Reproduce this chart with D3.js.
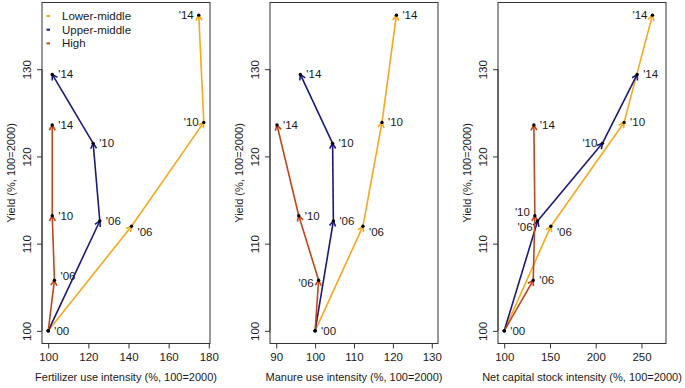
<!DOCTYPE html>
<html><head><meta charset="utf-8">
<script src="https://cdn.jsdelivr.net/npm/d3@7"></script>
<style>
body{margin:0;background:#fff;}
svg{display:block;font-family:"Liberation Sans",Arial,sans-serif;}
</style></head>
<body><svg id="c" width="685" height="388"></svg>
<script>
// ---- data ----
const groups = ["Lower-middle", "Upper-middle", "High"];
const years = ["'00", "'06", "'10", "'14"];
const yieldLM   = [100, 112.0, 123.9, 136.2];
const yieldUM   = [100, 112.6, 121.5, 129.4];
const yieldHigh = [100, 105.8, 113.2, 123.6];
const fertLM   = [100, 141.5, 177.5, 175.0];
const fertUM   = [100, 125.7, 122.4, 102.0];
const fertHigh = [100, 103.1, 102.0, 102.0];
const manureLM   = [100, 112.3, 117.2, 120.9];
const manureUM   = [100, 104.7, 104.5, 96.2];
const manureHigh = [100, 100.9, 95.8, 90.2];
const capitalLM   = [100, 151.0, 231.0, 262.0];
const capitalUM   = [100, 136.5, 207.3, 245.3];
const capitalHigh = [100, 131.7, 133.5, 132.4];
const xTitles = ["Fertilizer use intensity (%, 100=2000)", "Manure use intensity (%, 100=2000)", "Net capital stock intensity (%, 100=2000)"];
const xTicks = [[100,120,140,160,180],[90,100,110,120,130],[100,150,200,250]];
const yTicks = [100,110,120,130];
const yTitle = "Yield (%, 100=2000)";

// ---- layout / style ----
const colors = ["#F7A81B", "#1B1A78", "#C2461B"];
const xDomains = [[96.9,180.6],[88.4,131.6],[93.2,276.8]];
const yDomain = [98.55,137.65];
const fs = 11;
// label placement codes per panel, per group, per year index (1..3)
const labelPlace = [
  [["rb","l","l"],["r","r","r"],["ra","r","r"]],
  [["rb","r","r"],["r","r","r"],["l","r","r"]],
  [["rb","r","l"],["lb","l","r"],["r","la","r"]]
];
const panelLeft = [42, 270, 498], panelW = 168, plotTop = 2.5, plotBottom = 343.5;

const xSeries = [[fertLM,fertUM,fertHigh],[manureLM,manureUM,manureHigh],[capitalLM,capitalUM,capitalHigh]];
const ySeries = [yieldLM, yieldUM, yieldHigh];

const svg = d3.select("#c");
const txt = "#1a1a1a";
const y = d3.scaleLinear().domain(yDomain).range([plotBottom, plotTop]);

function arrow(g, x0, y0, x1, y1, col){
  const ang = Math.atan2(y1-y0, x1-x0), L = 6, a = Math.PI/6;
  g.append("line").attr("x1",x0).attr("y1",y0).attr("x2",x1).attr("y2",y1)
    .attr("stroke",col).attr("stroke-width",1.6);
  const p = [[x1 - L*Math.cos(ang-a), y1 - L*Math.sin(ang-a)],[x1,y1],[x1 - L*Math.cos(ang+a), y1 - L*Math.sin(ang+a)]];
  g.append("path").attr("d", d3.line()(p)).attr("fill","none").attr("stroke",col).attr("stroke-width",1.6);
}

xSeries.forEach((xs, pi) => {
  const L = panelLeft[pi], R = L + panelW;
  const x = d3.scaleLinear().domain(xDomains[pi]).range([L, R]);
  const g = svg.append("g");
  // box
  g.append("rect").attr("x",L).attr("y",plotTop).attr("width",panelW).attr("height",plotBottom-plotTop)
    .attr("fill","none").attr("stroke","#333").attr("stroke-width",1);
  // x axis
  const xa = g.append("g").attr("transform",`translate(0,${plotBottom})`)
    .call(d3.axisBottom(x).tickValues(xTicks[pi]).tickSize(5).tickPadding(4).tickFormat(d3.format("d")));
  xa.select(".domain").attr("d", `M${x(xTicks[pi][0])},0H${x(xTicks[pi][xTicks[pi].length-1])}`).attr("stroke","#333");
  xa.selectAll(".tick line").attr("stroke","#333");
  xa.selectAll("text").attr("font-size",fs+0.5).attr("fill",txt).attr("font-family","Liberation Sans, Arial, sans-serif");
  // y axis
  const ya = g.append("g").attr("transform",`translate(${L},0)`)
    .call(d3.axisLeft(y).tickValues(yTicks).tickSize(5).tickFormat(d3.format("d")));
  ya.select(".domain").attr("d", `M0,${y(100)}V${y(130)}`).attr("stroke","#333");
  ya.selectAll(".tick line").attr("stroke","#333");
  ya.selectAll(".tick text").attr("x",null).attr("dy",null).attr("text-anchor","middle")
    .attr("transform","translate(-11,0) rotate(-90)").attr("font-size",fs+0.5).attr("fill",txt)
    .attr("font-family","Liberation Sans, Arial, sans-serif");
  // titles
  g.append("text").attr("x",(L+R)/2).attr("y",381).attr("text-anchor","middle")
    .attr("font-size",fs).attr("fill",txt).text(xTitles[pi]);
  g.append("text").attr("transform",`translate(${L-27},${(plotTop+plotBottom)/2}) rotate(-90)`)
    .attr("text-anchor","middle").attr("font-size",fs).attr("fill",txt).text(yTitle);

  // arrows
  xs.forEach((xv, gi) => {
    const yv = ySeries[gi];
    for(let i=0;i<xv.length-1;i++){
      arrow(g, x(xv[i]), y(yv[i]), x(xv[i+1]), y(yv[i+1]), colors[gi]);
    }
  });
  // points and labels
  xs.forEach((xv, gi) => {
    const yv = ySeries[gi];
    xv.forEach((v, i) => {
      g.append("circle").attr("cx",x(v)).attr("cy",y(yv[i])).attr("r",1.7).attr("fill","#000");
      if(i===0 && gi>0) return;
      const code = i===0 ? "r" : labelPlace[pi][gi][i-1];
      let dx = 6, dy = 0, anchor = "start";
      if(code[0]==="l"){ dx = -5; anchor = "end"; }
      if(code.includes("b")) dy = 6;
      if(code.includes("a")) dy = -4;
      if(code==="l" && pi===1) dy = 3;
      g.append("text").attr("x",x(v)+dx).attr("y",y(yv[i])+dy).attr("dy","0.35em")
        .attr("text-anchor",anchor).attr("font-size",fs+0.5).attr("fill",txt).text(years[i]);
    });
  });
  // legend in first panel
  if(pi===0){
    groups.forEach((gn, gi) => {
      const ly = 16 + gi*13.7;
      g.append("line").attr("x1",L+4.5).attr("x2",L+8).attr("y1",ly).attr("y2",ly)
        .attr("stroke",colors[gi]).attr("stroke-width",2);
      g.append("text").attr("x",L+20).attr("y",ly).attr("dy","0.35em").attr("font-size",fs+0.5)
        .attr("fill",txt).text(gn);
    });
  }
});
</script></body></html>
